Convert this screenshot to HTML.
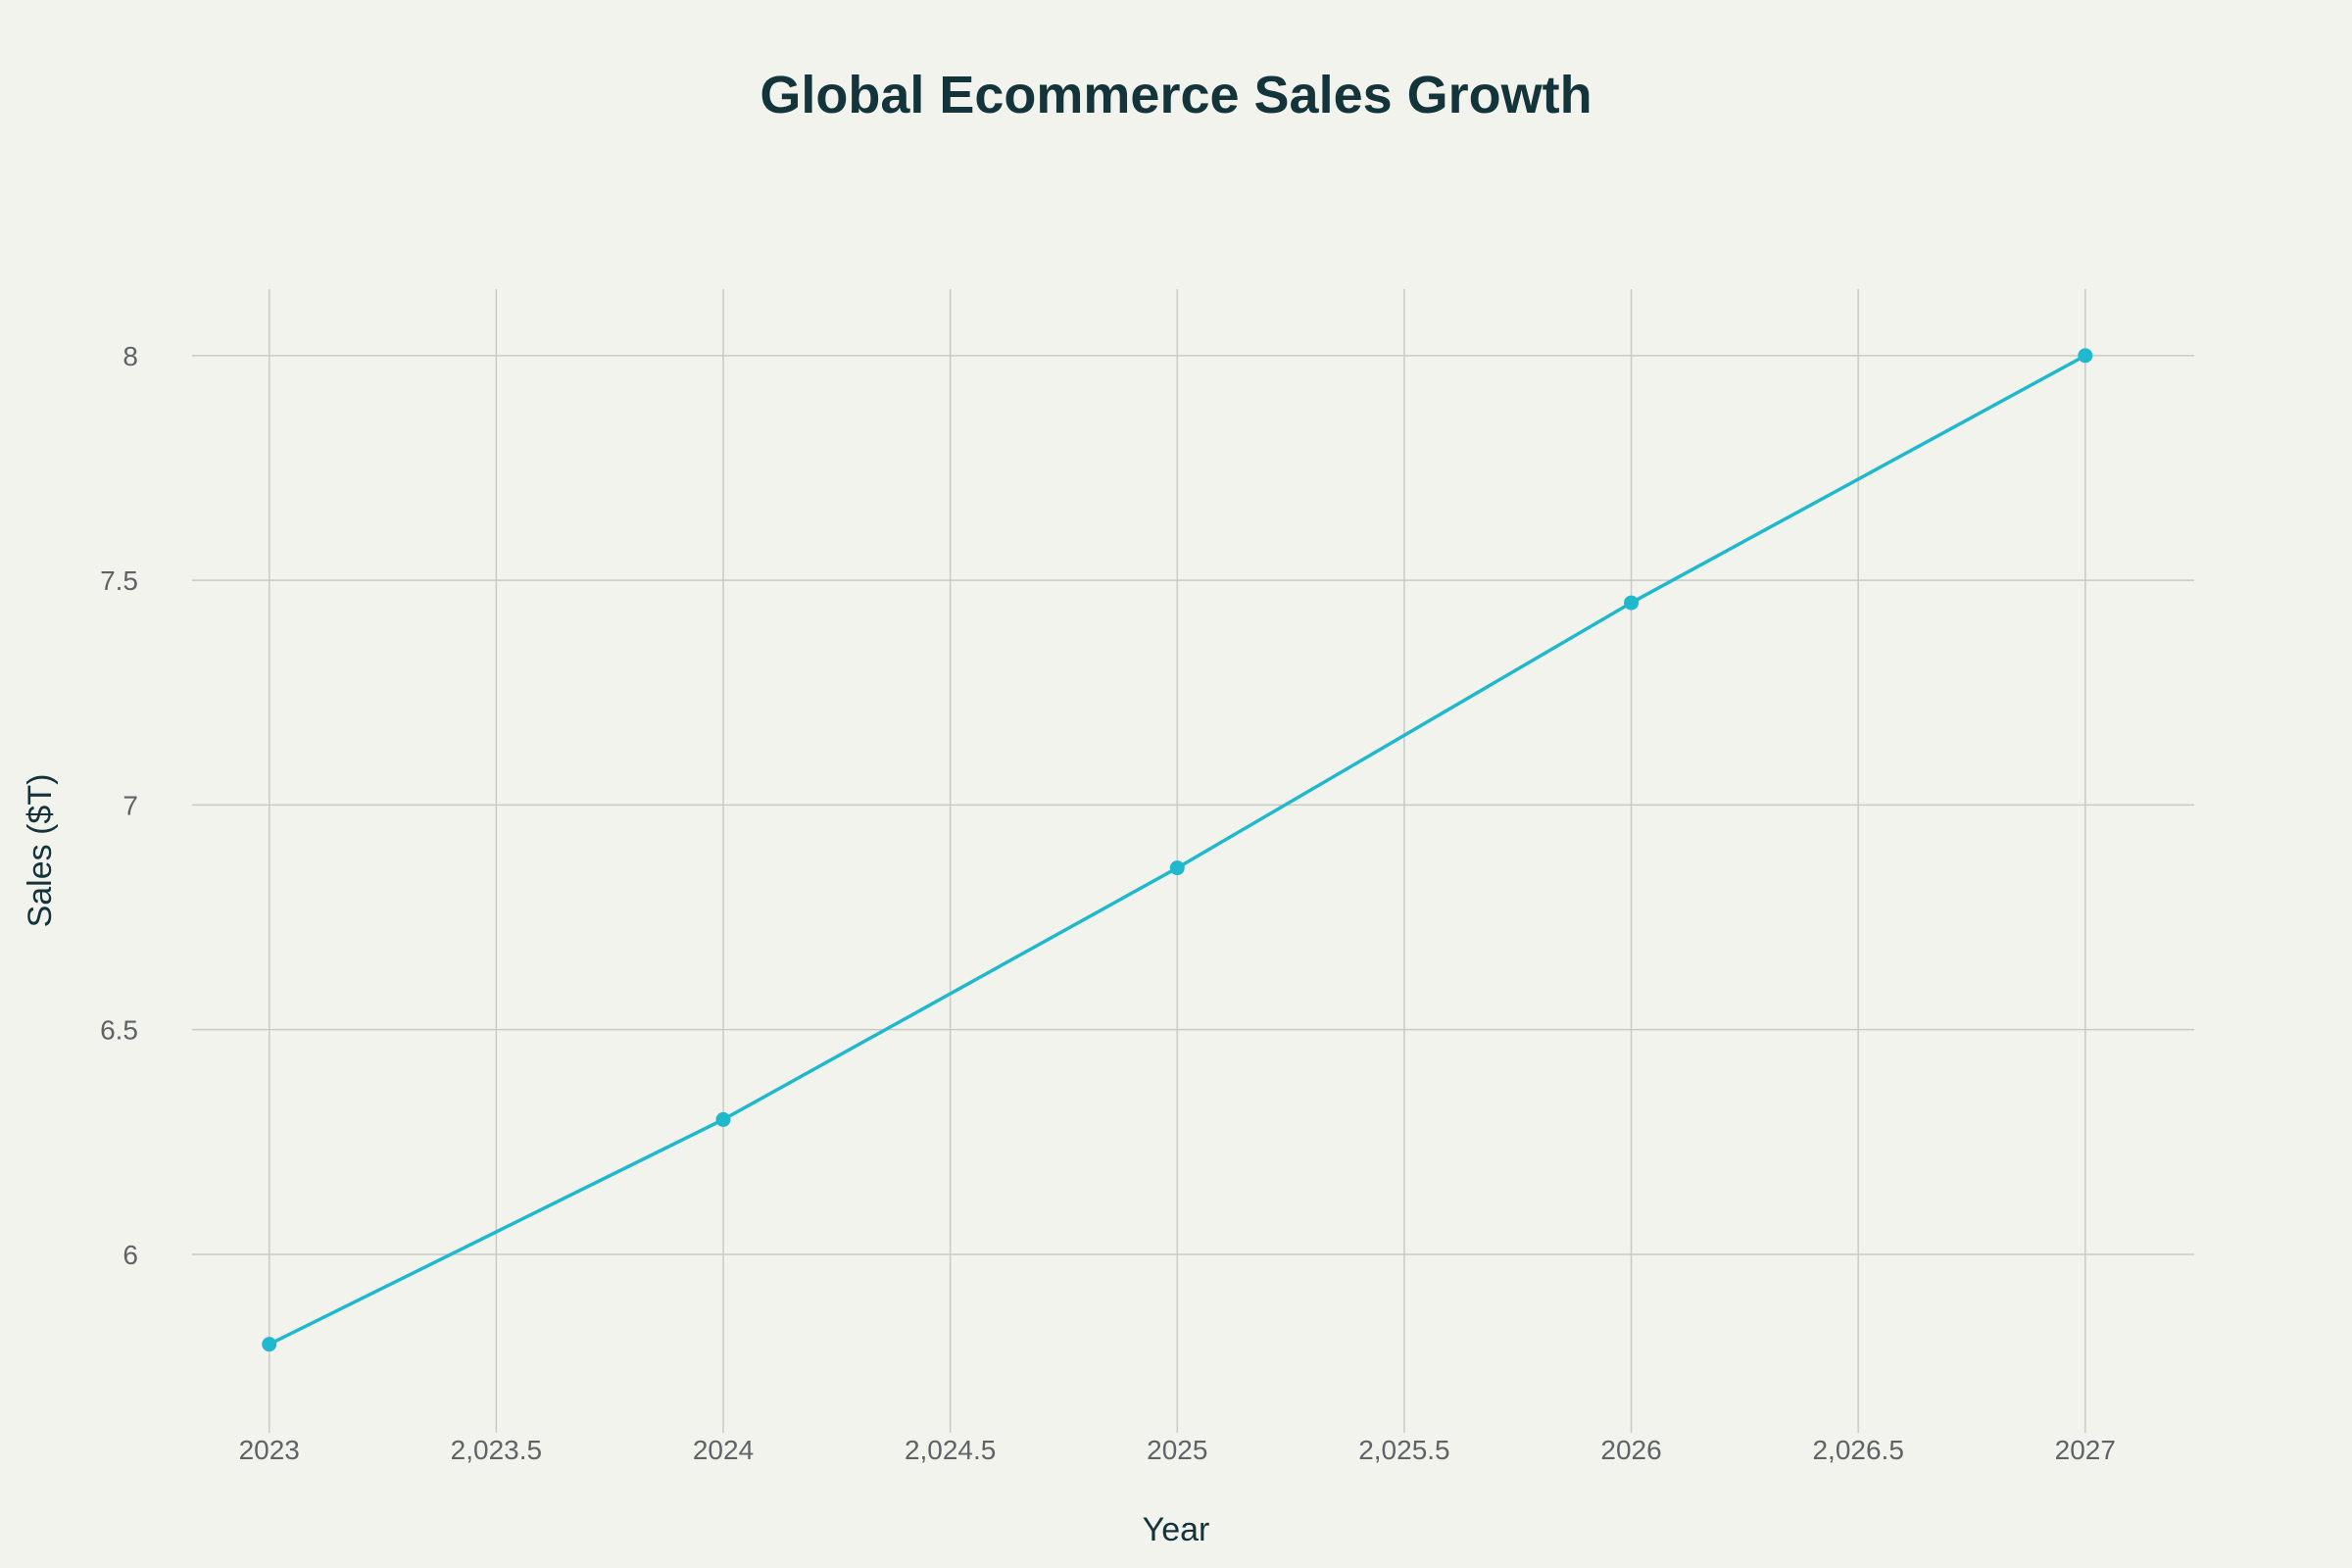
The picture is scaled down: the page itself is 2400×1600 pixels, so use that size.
<!DOCTYPE html>
<html><head><meta charset="utf-8"><style>
html,body{margin:0;padding:0;background:#f3f3ee;}
svg{display:block;font-family:"Liberation Sans",sans-serif;}
</style></head><body>
<svg id="chart" width="2400" height="1600" viewBox="0 0 2400 1600">
<rect width="2400" height="1600" fill="#f3f3ee"/>
<text x="1200" y="115" text-anchor="middle" font-size="54" font-weight="bold" fill="#13343b">Global Ecommerce Sales Growth</text>
<g id="grid"></g>
<g id="series"></g>
<text x="1200" y="1572" text-anchor="middle" font-size="34" fill="#13343b">Year</text>
<text x="0" y="0" transform="translate(52,868) rotate(-90)" text-anchor="middle" font-size="34" fill="#13343b">Sales ($T)</text>
</svg>
<script>
const years = [2023, 2024, 2025, 2026, 2027];
const sales = [5.8, 6.3, 6.86, 7.45, 8.0];
const xTicks = [2023, 2023.5, 2024, 2024.5, 2025, 2025.5, 2026, 2026.5, 2027];
const xTickLabels = ["2023", "2,023.5", "2024", "2,024.5", "2025", "2,025.5", "2026", "2,026.5", "2027"];
const yTicks = [6, 6.5, 7, 7.5, 8];
const yTickLabels = ["6", "6.5", "7", "7.5", "8"];

const L = 196, R = 2239, T = 295, B = 1462;
const X0 = 2022.83, X1 = 2027.24, Y0 = 5.603, Y1 = 8.148;
const xs = v => L + (v - X0) / (X1 - X0) * (R - L);
const ys = v => B - (v - Y0) / (Y1 - Y0) * (B - T);
const NS = "http://www.w3.org/2000/svg";
const grid = document.getElementById("grid");
const series = document.getElementById("series");
function mk(tag, attrs, parent) {
  const e = document.createElementNS(NS, tag);
  for (const k in attrs) e.setAttribute(k, attrs[k]);
  parent.appendChild(e);
  return e;
}
xTicks.forEach((t, i) => {
  const l = mk("line", {x1: xs(t), x2: xs(t), y1: T, y2: B, stroke: "#c9cac6", "stroke-width": 1.5}, grid);
  
  
  const tx = mk("text", {x: xs(t), y: 1489, "text-anchor": "middle", "font-size": 28, fill: "#5f6366"}, grid);
  tx.textContent = xTickLabels[i];
  
  
});
yTicks.forEach((t, i) => {
  const l = mk("line", {x1: L, x2: R, y1: ys(t), y2: ys(t), stroke: "#c9cac6", "stroke-width": 1.5}, grid);
  
  
  const tx = mk("text", {x: 141, y: ys(t) + 10, "text-anchor": "end", "font-size": 28, fill: "#5f6366"}, grid);
  tx.textContent = yTickLabels[i];
  
  
});
const pts = years.map((y, i) => xs(y) + "," + ys(sales[i])).join(" ");
const pl = mk("polyline", {points: pts, fill: "none", stroke: "#1fb8cd", "stroke-width": 3.5}, series);


years.forEach((y, i) => {
  const c = mk("circle", {cx: xs(y), cy: ys(sales[i]), r: 7.5, fill: "#1fb8cd"}, series);
  
  
});
</script>
</body></html>
